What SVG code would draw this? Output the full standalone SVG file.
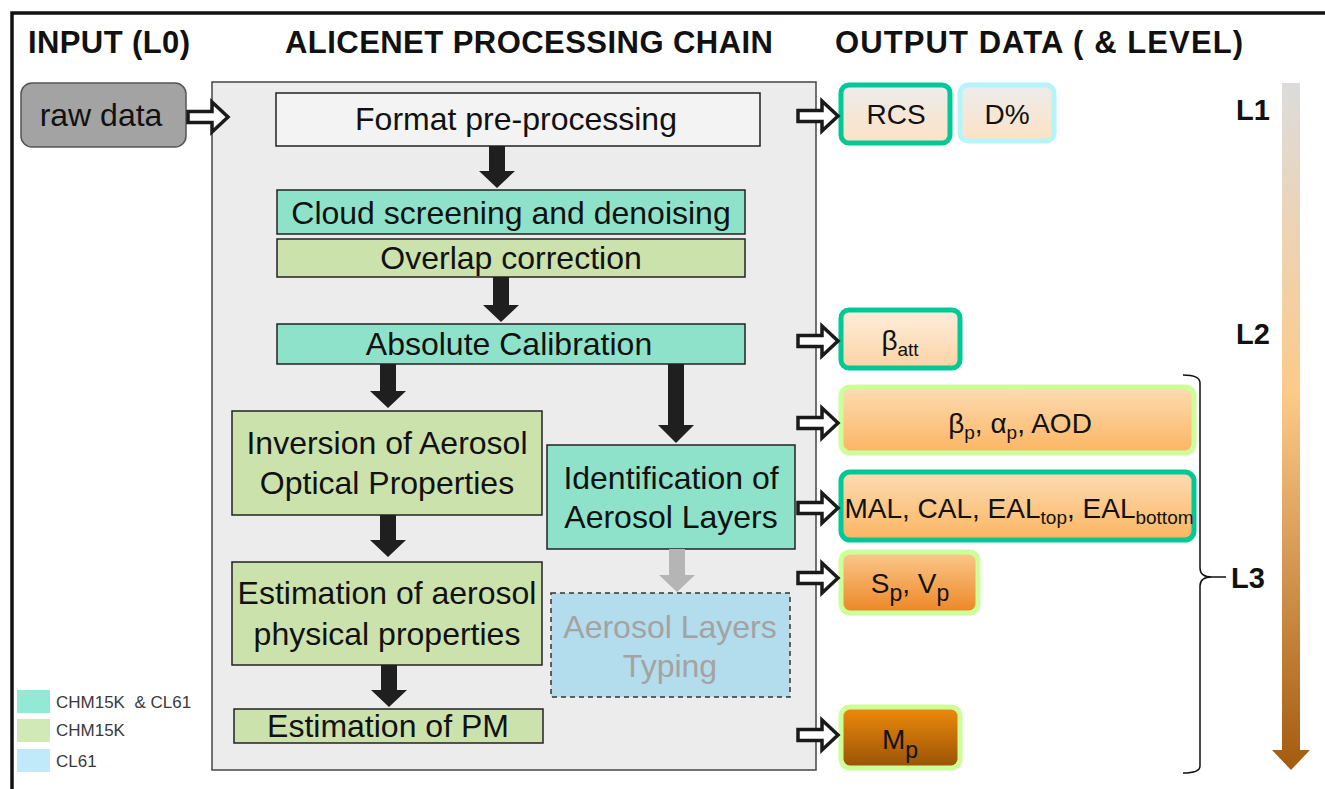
<svg xmlns="http://www.w3.org/2000/svg" width="1325" height="789" viewBox="0 0 1325 789">
<style>
.t{font-family:"Liberation Sans",Arial,sans-serif;fill:#111}
.h{font-size:31px;font-weight:bold}
.b{font-size:32px;text-anchor:middle}
.o{font-size:28px;text-anchor:middle}
.lv{font-size:29px;font-weight:bold}
.lg{font-size:17px;fill:#3a3a3a;white-space:pre}
.proc{stroke:#222;stroke-width:1.5}
.teal{fill:#8ee2c9}
.green{fill:#cbe2ad}
.blk{fill:#1f1f1f}
</style>
<defs>
<path id="ha" d="M0,-5.5 H24 V-15 L40,0 L24,15 V5.5 H0 Z" fill="#fff" stroke="#1a1a1a" stroke-width="3.5" stroke-linejoin="miter"/>
<linearGradient id="gRCS" x1="0" y1="0" x2="0" y2="1"><stop offset="0" stop-color="#ececec"/><stop offset="1" stop-color="#fde2c4"/></linearGradient>
<linearGradient id="gBatt" x1="0" y1="0" x2="0" y2="1"><stop offset="0" stop-color="#fdeedd"/><stop offset="1" stop-color="#fdd3a4"/></linearGradient>
<linearGradient id="gBp" x1="0" y1="0" x2="0" y2="1"><stop offset="0" stop-color="#fddcb2"/><stop offset="1" stop-color="#fbb562"/></linearGradient>
<linearGradient id="gSp" x1="0" y1="0" x2="0" y2="1"><stop offset="0" stop-color="#fbc98c"/><stop offset="1" stop-color="#ec8624"/></linearGradient>
<linearGradient id="gMp" x1="0" y1="0" x2="0" y2="1"><stop offset="0" stop-color="#ef8b0c"/><stop offset="1" stop-color="#985206"/></linearGradient>
<linearGradient id="gLv" x1="0" y1="83" x2="0" y2="770" gradientUnits="userSpaceOnUse"><stop offset="0" stop-color="#dcdcdc"/><stop offset="0.45" stop-color="#fdca8a"/><stop offset="1" stop-color="#a35b0e"/></linearGradient>
</defs>

<rect x="0" y="0" width="1325" height="789" fill="#fff"/>
<!-- frame -->
<path d="M12,789 V13 H1325" fill="none" stroke="#111" stroke-width="3.5"/>

<!-- titles -->
<text class="t h" x="28" y="53" textLength="162" lengthAdjust="spacing">INPUT (L0)</text>
<text class="t h" x="285" y="53" textLength="488" lengthAdjust="spacing">ALICENET PROCESSING CHAIN</text>
<text class="t h" x="835" y="53" textLength="408" lengthAdjust="spacing">OUTPUT DATA ( &amp; LEVEL)</text>

<!-- panel -->
<g id="panel"><rect x="212" y="82" width="604" height="688" fill="#ececec" stroke="#444" stroke-width="1.5"/></g>

<g id="raw">
<rect x="21" y="83" width="165" height="64" rx="11" fill="#a3a3a3" stroke="#555" stroke-width="1.5"/>
<text class="t b" x="101" y="126">raw data</text>
</g>

<g id="format"><rect class="proc" x="276" y="93" width="484" height="53" fill="#f3f3f3"/><text class="t b" x="516" y="130">Format pre-processing</text></g>
<g id="cloud"><rect class="proc teal" x="277" y="190" width="468" height="44"/><text class="t b" x="511" y="224">Cloud screening and denoising</text></g>
<g id="overlap"><rect class="proc green" x="277" y="239" width="468" height="38"/><text class="t b" x="511" y="269">Overlap correction</text></g>
<g id="abscal"><rect class="proc teal" x="277" y="324" width="468" height="40"/><text class="t b" x="509" y="355">Absolute Calibration</text></g>
<g id="inversion"><rect class="proc green" x="232" y="411" width="310" height="104"/><text class="t b" x="387" y="454">Inversion of Aerosol</text><text class="t b" x="387" y="494">Optical Properties</text></g>
<g id="identification"><rect class="proc teal" x="547" y="445" width="248" height="104"/><text class="t b" x="671" y="489">Identification of</text><text class="t b" x="671" y="528">Aerosol Layers</text></g>
<g id="physical"><rect class="proc green" x="232" y="562" width="310" height="103"/><text class="t b" x="387" y="604">Estimation of aerosol</text><text class="t b" x="387" y="645">physical properties</text></g>
<g id="typing"><rect x="551" y="593" width="239" height="104" fill="#b3dcec" stroke="#333" stroke-width="1.5" stroke-dasharray="5,4"/><text class="t b" x="670" y="638" style="fill:#a3a3a3">Aerosol Layers</text><text class="t b" x="670" y="677" style="fill:#a3a3a3">Typing</text></g>
<g id="pm"><rect class="proc green" x="234" y="709" width="309" height="34"/><text class="t b" x="388" y="737">Estimation of PM</text></g>

<!-- outputs -->
<g id="rcs"><rect x="841" y="85" width="109" height="58" rx="8" fill="url(#gRCS)" stroke="#00c896" stroke-width="5"/><text class="t o" x="896" y="124">RCS</text></g>
<g id="dpct"><rect x="960" y="85" width="94" height="56" rx="8" fill="url(#gRCS)" stroke="#b6f4fb" stroke-width="5"/><text class="t o" x="1007" y="124">D%</text></g>
<g id="batt"><rect x="841" y="310" width="119" height="58" rx="8" fill="url(#gBatt)" stroke="#00c896" stroke-width="5"/><text class="t o" x="900" y="350">β<tspan font-size="19" dy="6">att</tspan></text></g>
<g id="bp"><rect x="841" y="387" width="353" height="66" rx="9" fill="url(#gBp)" stroke="#ccff99" stroke-width="5"/><text class="t o" x="1020" y="433">β<tspan font-size="19" dy="6">p</tspan><tspan dy="-6">, α</tspan><tspan font-size="19" dy="6">p</tspan><tspan dy="-6">, AOD</tspan></text></g>
<g id="mal"><rect x="841" y="472" width="353" height="68" rx="9" fill="url(#gBp)" stroke="#00c896" stroke-width="5"/><text class="t o" x="1019" y="518">MAL, CAL, EAL<tspan font-size="19" dy="6">top</tspan><tspan dy="-6">, EAL</tspan><tspan font-size="19" dy="6">bottom</tspan></text></g>
<g id="spvp"><rect x="841" y="552" width="137" height="61" rx="9" fill="url(#gSp)" stroke="#ccff99" stroke-width="5"/><text class="t o" x="910" y="593" font-size="32">S<tspan font-size="23" dy="8">p</tspan><tspan dy="-8">, V</tspan><tspan font-size="23" dy="8">p</tspan></text></g>
<g id="mp"><rect x="841" y="707" width="119" height="61" rx="9" fill="url(#gMp)" stroke="#ccff99" stroke-width="5"/><text class="t o" x="900" y="749" font-size="33">M<tspan font-size="23" dy="9">p</tspan></text></g>

<!-- connectors -->
<g id="connectors">
<use href="#ha" x="188" y="117"/>
<use href="#ha" x="798" y="116"/>
<use href="#ha" x="798" y="341"/>
<use href="#ha" x="798" y="423"/>
<use href="#ha" x="798" y="508"/>
<use href="#ha" x="798" y="578"/>
<use href="#ha" x="798" y="735"/>
<path class="blk" d="M489,146 H505 V171 H515 L497,188 L479,171 H489 Z"/>
<path class="blk" d="M493,277 H509 V305 H519 L501,322 L483,305 H493 Z"/>
<path class="blk" d="M380,364 H396 V391 H406 L388,408 L370,391 H380 Z"/>
<path class="blk" d="M668,364 H684 V425 H694 L676,443 L658,425 H668 Z"/>
<path class="blk" d="M380,515 H396 V540 H406 L388,557 L370,540 H380 Z"/>
<path class="blk" d="M381,665 H397 V690 H407 L389,707 L371,690 H381 Z"/>
<path fill="#b5b5b5" d="M669,549 H685 V575 H695 L677,592 L659,575 H669 Z"/>
</g>

<!-- brace and levels -->
<g id="brace">
<path d="M1183,375 Q1200,375 1200,383 V568 Q1200,577 1212,577 Q1200,577 1200,586 V766 Q1200,773 1183,773" fill="none" stroke="#111" stroke-width="1.5"/>
<line x1="1212" y1="577" x2="1226" y2="577" stroke="#111" stroke-width="1.5"/>
</g>
<g id="levels">
<path d="M1282,83 H1300 V750 H1310 L1291,770 L1272,750 H1282 Z" fill="url(#gLv)"/>
<text class="t lv" x="1236" y="120">L1</text>
<text class="t lv" x="1236" y="344">L2</text>
<text class="t lv" x="1231" y="588">L3</text>
</g>

<!-- legend -->
<g id="legend">
<rect x="17" y="690" width="33" height="23" fill="#93e9d3"/>
<rect x="17" y="719" width="33" height="23" fill="#d1e9b6"/>
<rect x="17" y="749" width="33" height="23" fill="#c0e9f9"/>
<text class="t lg" x="56" y="708">CHM15K  &amp; CL61</text>
<text class="t lg" x="56" y="736">CHM15K</text>
<text class="t lg" x="56" y="767">CL61</text>
</g>
</svg>
